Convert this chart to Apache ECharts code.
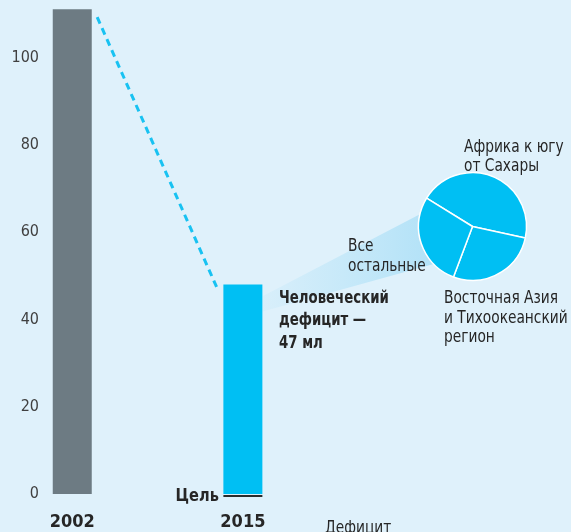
<!DOCTYPE html>
<html>
<head>
<meta charset="utf-8">
<script src="https://cdn.jsdelivr.net/npm/echarts@6/dist/echarts.min.js"></script>
<style>
  html, body { margin: 0; padding: 0; background: #dff1fb; }
  #chart { width: 571px; height: 532px; }
</style>
</head>
<body>
<div id="chart"></div>
<script>
// values (millions of people)
var years = [2002, 2015];
var deficit = [111, 48];
var barColors = ['#6d7b83', '#00bff3'];
var goalValue = 0;
var trendLine = [[2003.9, 109.2], [2013.0, 47.4]];
var yTicks = [0, 20, 40, 60, 80, 100];

var pieNames = ['Африка к югу от Сахары', 'Восточная Азия и Тихоокеанский регион', 'Все остальные'];
var pieValues = [44.6, 27.3, 28.1];

var FONT = "'DejaVu Sans Condensed', 'Liberation Sans Narrow', sans-serif";
var TEXT = '#262626';

var myChart = echarts.init(document.getElementById('chart'));

var barData = years.map(function (y, i) {
    return { value: [y, deficit[i]], itemStyle: { color: barColors[i] } };
});

var option = {
    backgroundColor: '#dff1fb',
    animation: false,
    grid: { left: 46, top: 5, width: 529, height: 489 },
    xAxis: {
        type: 'value',
        min: 2000,
        max: 2040,
        axisLine: { show: false },
        axisTick: { show: false },
        splitLine: { show: false },
        axisLabel: {
            customValues: years,
            margin: 19,
            fontFamily: FONT,
            fontWeight: 'bold',
            fontSize: 18,
            color: TEXT,
            formatter: function (v) { return String(v); }
        }
    },
    yAxis: {
        type: 'value',
        min: 0,
        max: 112,
        interval: 20,
        axisLine: { show: false },
        axisTick: { show: false },
        splitLine: { show: false },
        axisLabel: {
            showMaxLabel: false,
            margin: 7,
            fontFamily: FONT,
            fontSize: 16,
            color: '#404040',
            formatter: function (v) { return yTicks.indexOf(v) >= 0 ? String(v) : ''; }
        }
    },
    series: [
        {
            type: 'bar',
            barWidth: 39,
            data: barData,
            z: 3
        },
        {
            type: 'line',
            data: trendLine,
            symbol: 'none',
            lineStyle: { color: '#18c2f2', width: 3, type: [7, 5] },
            z: 3
        },
        {
            // target line "Цель" under the 2015 bar
            type: 'custom',
            data: [[2015, goalValue]],
            z: 4,
            renderItem: function (params, api) {
                var p = api.coord([api.value(0), api.value(1)]);
                return {
                    type: 'group',
                    children: [{
                        type: 'line',
                        shape: { x1: p[0] - 19.5, y1: p[1] + 2, x2: p[0] + 19.5, y2: p[1] + 2 },
                        style: { stroke: '#2b2b2b', lineWidth: 2 }
                    }, {
                        type: 'text',
                        x: p[0] - 24, y: p[1] + 2.5,
                        scaleX: 0.9,
                        style: {
                            text: 'Цель', x: 0, y: 0,
                            align: 'right', verticalAlign: 'middle',
                            font: 'bold 18px ' + FONT, fill: TEXT
                        }
                    }]
                };
            }
        },
        {
            type: 'pie',
            center: [472.5, 226.5],
            radius: 54,
            startAngle: 148.2,
            clockwise: true,
            label: { show: false },
            labelLine: { show: false },
            itemStyle: { color: '#00bff3', borderColor: '#ffffff', borderWidth: 1.5 },
            emphasis: { disabled: true },
            data: pieNames.map(function (n, i) { return { name: n, value: pieValues[i] }; }),
            z: 3
        }
    ]
};

myChart.setOption(option);

// beam from the 2015 bar to the pie, anchored through the axes
var a1 = myChart.convertToPixel({ xAxisIndex: 0, yAxisIndex: 0 }, [2016.5, 45.3]);
var a2 = myChart.convertToPixel({ xAxisIndex: 0, yAxisIndex: 0 }, [2016.5, 41.8]);
var cx = 472.5, cy = 226.5, r = 54;
function onPie(deg) {
    var t = deg * Math.PI / 180;
    return [cx + r * Math.cos(t), cy - r * Math.sin(t)];
}
var b1 = onPie(167), b2 = onPie(224);

function txt(lines, x, y, bold, lh, sx) {
    return {
        type: 'text',
        x: x, y: y,
        scaleX: sx,
        z: 10,
        style: {
            text: lines.join('\n'),
            font: (bold ? 'bold ' : '') + '17px ' + FONT,
            fill: TEXT,
            lineHeight: lh
        }
    };
}

myChart.setOption({
    graphic: [
        {
            type: 'polygon',
            z: 1,
            shape: { points: [a1, b1, [cx, cy], b2, a2] },
            style: {
                fill: new echarts.graphic.LinearGradient(0, 0, 1, 0, [
                    { offset: 0, color: 'rgba(175, 225, 247, 0.15)' },
                    { offset: 1, color: 'rgba(165, 221, 246, 0.95)' }
                ])
            }
        },
        txt(['Человеческий', 'дефицит —', '47 мл'], 279, 287, true, 22.5, 0.87),
        txt(['Все', 'остальные'], 348, 237, false, 20, 0.9),
        txt(['Африка к югу', 'от Сахары'], 464, 138, false, 19, 0.9),
        txt(['Восточная Азия', 'и Тихоокеанский', 'регион'], 444, 289, false, 19.5, 0.9),
        txt(['Дефицит'], 325, 519, false, 20, 0.9)
    ]
});
</script>
</body>
</html>
